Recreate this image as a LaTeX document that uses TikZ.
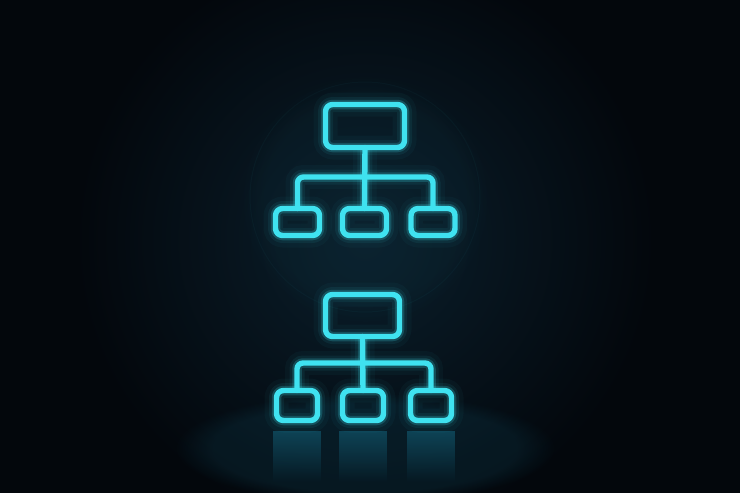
\documentclass[tikz,border=0pt]{standalone}
\usetikzlibrary{calc,fadings}
\definecolor{bg}{HTML}{03070C}
\definecolor{bgglow}{HTML}{0A1F2C}
\definecolor{neon}{HTML}{3FE2F0}
\definecolor{refl}{HTML}{0F4A5E}
\begin{document}
\begin{tikzpicture}[x=1pt,y=-1pt,
  neonbase/.style={draw=neon, line width=5.4pt, line cap=round, line join=round,
    preaction={draw=neon, line width=24pt, draw opacity=0.035},
    preaction={draw=neon, line width=15pt, draw opacity=0.07},
    preaction={draw=neon, line width=9.5pt, draw opacity=0.2}},
  box/.style={neonbase, rounded corners=7pt, inner sep=0pt, outer sep=0pt},
  link/.style={neonbase, rounded corners=6pt}
]
% background
\fill[bg] (0,0) rectangle (740,493);
\useasboundingbox (0,0) rectangle (740,493);
\shade[inner color=bgglow, outer color=bg] (365,240) circle (290);
\fill[bgglow!80!neon, path fading=circle with fuzzy edge 20 percent, fill opacity=0.12] (365,200) circle (125);
\draw[neon, line width=1pt, draw opacity=0.03] (365,197) circle (115);
\fill[refl, path fading=circle with fuzzy edge 20 percent, fill opacity=0.22] (365,448) ellipse (190 and 55);

% top icon
\node[box, minimum width=79pt, minimum height=43pt] (t1) at (365,126) {};
\node[box, minimum width=44pt, minimum height=27pt] (l1) at (297.5,222) {};
\node[box, minimum width=44pt, minimum height=27pt] (m1) at (364.5,222) {};
\node[box, minimum width=44pt, minimum height=27pt] (r1) at (433,222) {};
\coordinate (h1) at (365,177);
\draw[link] (l1.north) |- (h1) -| (r1.north);
\draw[link] (t1.south) -- (m1.north);

% bottom icon reflections
\foreach \x in {297,363,431}{
  \fill[refl, path fading=south, fill opacity=0.85] (\x-24,431) rectangle (\x+24,482);
}

% bottom icon
\node[box, minimum width=74pt, minimum height=42pt] (t2) at (362.5,315.5) {};
\node[box, minimum width=41pt, minimum height=30pt] (l2) at (297,405.5) {};
\node[box, minimum width=41pt, minimum height=30pt] (m2) at (363,405.5) {};
\node[box, minimum width=41pt, minimum height=30pt] (r2) at (431,405.5) {};
\coordinate (h2) at (363,363);
\draw[link] (l2.north) |- (h2) -| (r2.north);
\draw[link] (t2.south) -- (m2.north);
\end{tikzpicture}
\end{document}
